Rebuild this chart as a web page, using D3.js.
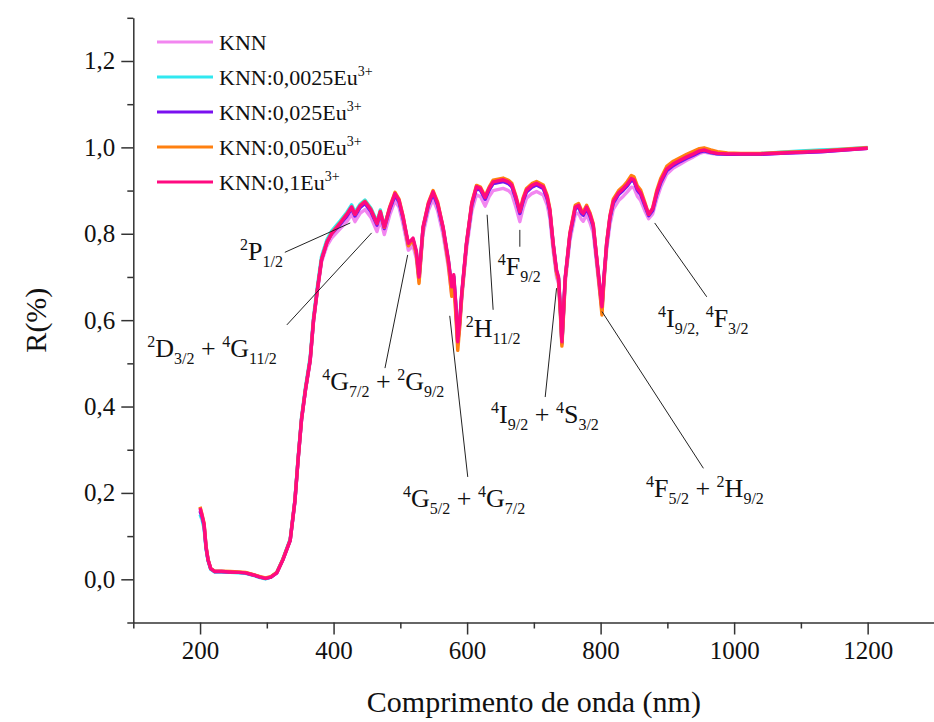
<!DOCTYPE html>
<html>
<head>
<meta charset="utf-8">
<script src="https://cdn.jsdelivr.net/npm/d3@7"></script>
<style>
body { margin: 0; background: #fff; }
text { font-family: "Liberation Serif", "Times New Roman", serif; fill: #111; }
.axis path, .axis line { stroke: #333; stroke-width: 1.5; }
</style>
</head>
<body>
<div id="chart"></div>
<script>
// wavelength grid (nm), shared by every spectrum
var wavelength = [
  200,203,206,209,212,216,222,232,245,258,
  268,280,290,298,306,315,324,335,342,347,
  352,358,365,370,375,382,390,397,410,420,
  427,432,440,447,456,465,470,476,484,492,
  498,504,512,519,524,528,534,542,549,556,
  564,572,577,580,583,586,589,592,599,607,
  614,620,627,633,639,654,662,667,673,679,
  684,689,697,704,714,720,724,729,734,737,
  740,742,745,747,754,762,767,771,774,779,
  784,789,794,798,802,805,809,814,819,827,
  834,840,846,850,855,860,866,872,878,884,
  890,899,909,919,929,939,948,955,965,975,
  990,1010,1040,1070,1100,1130,1160,1200];

var rKNN = [
  .160,.145,.125,.072,.044,.024,.018,.018,.017,.016,
  .015,.010,.005,.002,.005,.015,.045,.090,.178,.278,
  .368,.438,.505,.597,.658,.735,.772,.790,.812,.828,
  .845,.828,.848,.856,.838,.805,.833,.798,.843,.876,
  .862,.823,.762,.772,.742,.690,.800,.854,.880,.853,
  .798,.722,.660,.690,.625,.545,.590,.650,.762,.852,
  .890,.886,.864,.886,.900,.905,.900,.892,.862,.828,
  .860,.882,.893,.898,.890,.866,.836,.760,.700,.685,
  .608,.545,.628,.686,.784,.845,.848,.834,.829,.844,
  .826,.802,.730,.674,.622,.688,.762,.822,.857,.877,
  .887,.897,.908,.906,.887,.877,.854,.835,.846,.880,
  .908,.938,.952,.961,.970,.978,.986,.989,.986,.984,
  .984,.984,.984,.986,.988,.990,.993,.998];

var rEu0025 = [
  .150,.138,.118,.070,.043,.023,.017,.017,.016,.015,
  .014,.009,.004,.001,.005,.016,.047,.093,.183,.284,
  .375,.446,.515,.608,.670,.748,.786,.806,.830,.850,
  .867,.850,.869,.878,.859,.828,.855,.819,.857,.890,
  .875,.837,.775,.787,.757,.697,.813,.867,.894,.867,
  .813,.737,.674,.702,.637,.548,.597,.660,.775,.867,
  .906,.902,.881,.902,.917,.922,.917,.910,.882,.848,
  .877,.898,.909,.914,.906,.882,.852,.775,.713,.697,
  .617,.548,.637,.697,.797,.859,.863,.849,.844,.859,
  .842,.817,.744,.687,.628,.697,.775,.837,.872,.892,
  .902,.912,.925,.922,.902,.892,.867,.843,.855,.892,
  .919,.947,.960,.968,.976,.983,.990,.992,.988,.985,
  .985,.985,.986,.989,.992,.994,.996,1.000];

var rEu025 = [
  .158,.145,.125,.073,.044,.024,.018,.018,.017,.016,
  .015,.010,.005,.002,.005,.015,.045,.090,.180,.280,
  .370,.440,.508,.600,.662,.740,.780,.800,.822,.841,
  .858,.841,.861,.870,.851,.820,.847,.812,.856,.889,
  .874,.836,.774,.786,.756,.696,.812,.866,.893,.866,
  .812,.736,.672,.700,.636,.546,.596,.659,.774,.866,
  .905,.901,.880,.901,.916,.921,.916,.909,.881,.847,
  .876,.897,.908,.913,.905,.881,.851,.774,.712,.696,
  .616,.546,.636,.696,.796,.858,.862,.848,.843,.858,
  .841,.816,.743,.686,.627,.696,.774,.836,.871,.891,
  .901,.911,.924,.921,.901,.891,.866,.842,.854,.891,
  .918,.946,.958,.967,.975,.982,.989,.992,.988,.985,
  .984,.984,.984,.986,.988,.990,.993,.998];

var rEu050 = [
  .168,.150,.130,.076,.046,.025,.019,.019,.018,.017,
  .016,.011,.006,.003,.006,.016,.046,.091,.181,.281,
  .371,.441,.509,.601,.663,.741,.781,.801,.826,.846,
  .862,.845,.866,.875,.856,.824,.852,.815,.862,.896,
  .880,.842,.772,.786,.752,.685,.814,.872,.900,.873,
  .815,.730,.655,.685,.615,.530,.585,.655,.776,.872,
  .912,.908,.887,.908,.924,.929,.924,.917,.888,.853,
  .884,.905,.916,.921,.913,.889,.858,.775,.710,.692,
  .605,.540,.628,.694,.802,.866,.870,.856,.851,.866,
  .849,.823,.745,.680,.612,.690,.778,.842,.880,.900,
  .910,.921,.935,.932,.911,.901,.874,.845,.860,.900,
  .928,.956,.968,.976,.984,.991,.997,.999,.994,.990,
  .987,.986,.986,.988,.990,.992,.995,.999];

var rEu1 = [
  .165,.148,.128,.075,.045,.025,.018,.018,.017,.016,
  .015,.010,.005,.002,.005,.015,.045,.090,.180,.280,
  .370,.440,.508,.600,.662,.740,.780,.800,.825,.845,
  .862,.845,.865,.874,.855,.824,.851,.816,.860,.893,
  .878,.840,.778,.790,.760,.700,.816,.870,.897,.870,
  .816,.740,.677,.705,.640,.550,.600,.663,.778,.870,
  .909,.905,.884,.905,.920,.925,.920,.913,.885,.851,
  .880,.901,.912,.917,.909,.885,.855,.778,.716,.700,
  .620,.550,.640,.700,.800,.862,.866,.852,.847,.862,
  .845,.820,.747,.690,.631,.700,.778,.840,.875,.895,
  .905,.915,.928,.925,.905,.895,.870,.845,.858,.895,
  .922,.950,.962,.970,.978,.985,.992,.994,.989,.986,
  .985,.985,.985,.987,.989,.991,.994,.998];

var seriesNames = ["KNN", "KNN:0,0025Eu", "KNN:0,025Eu", "KNN:0,050Eu", "KNN:0,1Eu"];
var seriesSup = ["", "3+", "3+", "3+", "3+"];
var seriesColors = ["#f286f0", "#30e8f0", "#7a10f0", "#ff8010", "#ff0a80"];
var seriesValues = [rKNN, rEu0025, rEu025, rEu050, rEu1];

var xTicks = [200, 400, 600, 800, 1000, 1200];
var xMinor = [100, 300, 500, 700, 900, 1100];
var yTicks = [0, 0.2, 0.4, 0.6, 0.8, 1.0, 1.2];
var yMinor = [-0.1, 0.1, 0.3, 0.5, 0.7, 0.9, 1.1, 1.3];

// transition labels: text parts (^ = superscript, _ = subscript), anchor in data units
var annLabels = [
  "^2|P|_1/2",
  "^2|D|_3/2| + |^4|G|_11/2",
  "^4|G|_7/2| + |^2|G|_9/2",
  "^4|G|_5/2| + |^4|G|_7/2",
  "^2|H|_11/2",
  "^4|F|_9/2",
  "^4|I|_9/2| + |^4|S|_3/2",
  "^4|F|_5/2| + |^2|H|_9/2",
  "^4|I|_9/2,| |^4|F|_3/2"];
var annTextX = [260, 121, 383, 504, 598, 646, 636, 868, 886];
var annTextY = [0.739, 0.515, 0.438, 0.167, 0.561, 0.705, 0.362, 0.191, 0.584];
// leader lines: from (x1,y1) to (x2,y2), data units
var annX1 = [327, 330, 511, 574, 630, 679, 734, 802, 881];
var annY1 = [0.757, 0.589, 0.751, 0.610, 0.844, 0.809, 0.674, 0.620, 0.825];
var annX2 = [425, 457, 477, 601, 639, 679, 717, 954, 959];
var annY2 = [0.825, 0.802, 0.489, 0.237, 0.624, 0.770, 0.422, 0.257, 0.654];

var W = 934, H = 722;
var x = d3.scaleLinear().domain([100, 1300]).range([133.3, 934.4]);
var y = d3.scaleLinear().domain([-0.1, 1.3]).range([622.5, 17.8]);

var svg = d3.select("#chart").append("svg")
    .attr("width", W)
    .attr("height", H);

var commaFmt = function (d) { return d3.format(".1f")(d).replace(".", ","); };

// axes
svg.append("g").attr("class", "axis")
    .attr("transform", "translate(" + x(100) + ",0)")
    .call(d3.axisLeft(y).tickValues(yTicks).tickSize(12).tickSizeOuter(0).tickPadding(6).tickFormat(commaFmt));
svg.append("g").attr("class", "axis")
    .attr("transform", "translate(" + x(100) + ",0)")
    .call(d3.axisLeft(y).tickValues(yMinor).tickSize(6).tickFormat(""))
    .select(".domain").remove();

svg.append("g").attr("class", "axis")
    .attr("transform", "translate(0," + y(-0.1) + ")")
    .call(d3.axisBottom(x).tickValues(xTicks).tickSize(12).tickSizeOuter(0).tickPadding(6.5).tickFormat(d3.format("d")));
svg.append("g").attr("class", "axis")
    .attr("transform", "translate(0," + y(-0.1) + ")")
    .call(d3.axisBottom(x).tickValues(xMinor).tickSize(6).tickFormat(""))
    .select(".domain").remove();

svg.selectAll(".axis text")
    .style("font-family", "'Liberation Serif', serif")
    .style("font-size", "25px")
    .attr("fill", "#111");

// axis titles
svg.append("text")
    .attr("x", (x(100) + x(1300)) / 2)
    .attr("y", 712)
    .attr("text-anchor", "middle")
    .style("font-size", "30px")
    .text("Comprimento de onda (nm)");

svg.append("text")
    .attr("transform", "translate(46," + (y(-0.1) + y(1.3)) / 2 + ") rotate(-90)")
    .attr("text-anchor", "middle")
    .style("font-size", "30px")
    .text("R(%)");

// spectra
var line = d3.line()
    .x(function (d) { return x(d[0]); })
    .y(function (d) { return y(d[1]); });

seriesValues.forEach(function (vals, i) {
    var pts = wavelength.map(function (w, j) { return [w, vals[j]]; });
    svg.append("path")
        .attr("d", line(pts))
        .attr("fill", "none")
        .attr("stroke", seriesColors[i])
        .attr("stroke-width", 3.4)
        .attr("stroke-linejoin", "round");
});

// leader lines
annLabels.forEach(function (lab, i) {
    svg.append("line")
        .attr("x1", x(annX1[i])).attr("y1", y(annY1[i]))
        .attr("x2", x(annX2[i])).attr("y2", y(annY2[i]))
        .attr("stroke", "#222")
        .attr("stroke-width", 1);
});

// labels with super/subscripts
function richText(g, parts, px, py, bigSize, smallSize, supShift, subShift) {
    var t = g.append("text").attr("x", px).attr("y", py).style("font-size", bigSize + "px");
    var cur = 0;
    parts.forEach(function (p) {
        var target = 0, size = bigSize, s = p;
        if (p[0] === "^") { target = -supShift; size = smallSize; s = p.slice(1); }
        else if (p[0] === "_") { target = subShift; size = smallSize; s = p.slice(1); }
        t.append("tspan")
            .attr("dy", target - cur)
            .style("font-size", size + "px")
            .style("white-space", "pre")
            .text(s);
        cur = target;
    });
    return t;
}

annLabels.forEach(function (lab, i) {
    richText(svg, lab.split("|"), x(annTextX[i]), y(annTextY[i]), 26, 16, 10, 7)
        .attr("xml:space", "preserve");
});

// legend
var legend = svg.append("g");
seriesNames.forEach(function (name, i) {
    var ly = 42 + i * 35;
    legend.append("line")
        .attr("x1", 157).attr("x2", 213)
        .attr("y1", ly).attr("y2", ly)
        .attr("stroke", seriesColors[i])
        .attr("stroke-width", 3);
    var parts = [name];
    if (seriesSup[i]) parts.push("^" + seriesSup[i]);
    richText(legend, parts, 219, ly + 8, 22, 14, 9, 0);
});
</script>
</body>
</html>
